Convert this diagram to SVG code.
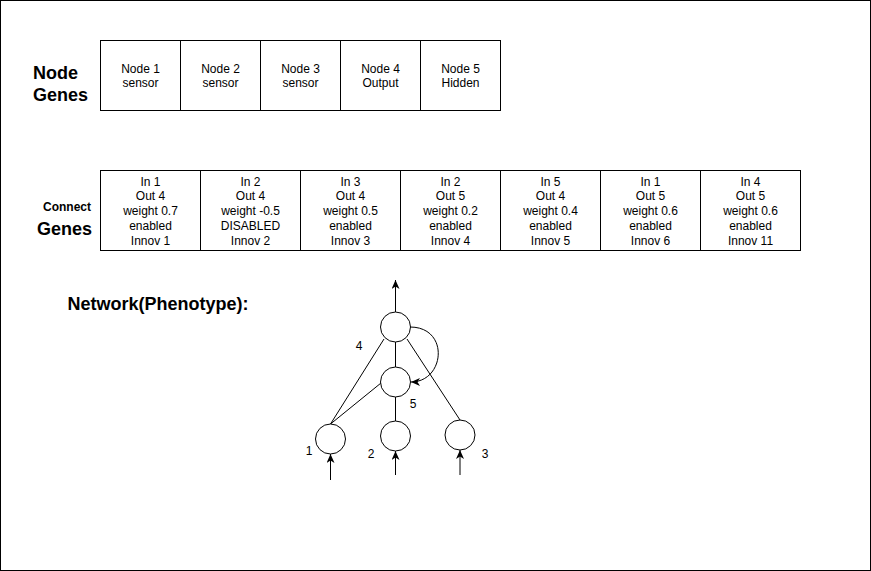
<svg xmlns="http://www.w3.org/2000/svg" width="871" height="571" viewBox="0 0 871 571">
<style>
text{font-family:"Liberation Sans",Arial,sans-serif;fill:#000}
.t{font-size:12px;text-anchor:middle}
.h{font-size:18px;font-weight:bold}
.box{fill:#fff;stroke:#000;stroke-width:1}
.c{fill:#fff;stroke:#000;stroke-width:1}
.e{fill:none;stroke:#000;stroke-width:1}
</style>
<defs>
<marker id="arr" markerUnits="userSpaceOnUse" markerWidth="12" markerHeight="12" refX="9" refY="4" orient="auto">
<path d="M0,0 L9,4 L0,8 L2.5,4 Z" fill="#000"/>
</marker>
</defs>
<rect x="0.5" y="0.5" width="870" height="570" fill="#fff" stroke="#000" stroke-width="1"/>

<g id="node-genes-label">
<text class="h" x="33" y="79">Node</text>
<text class="h" x="33" y="101">Genes</text>
</g>
<g id="ng1"><rect class="box" x="100.5" y="40.5" width="80" height="70"/><text class="t" x="140.5" y="73">Node 1</text><text class="t" x="140.5" y="87">sensor</text></g>
<g id="ng2"><rect class="box" x="180.5" y="40.5" width="80" height="70"/><text class="t" x="220.5" y="73">Node 2</text><text class="t" x="220.5" y="87">sensor</text></g>
<g id="ng3"><rect class="box" x="260.5" y="40.5" width="80" height="70"/><text class="t" x="300.5" y="73">Node 3</text><text class="t" x="300.5" y="87">sensor</text></g>
<g id="ng4"><rect class="box" x="340.5" y="40.5" width="80" height="70"/><text class="t" x="380.5" y="73">Node 4</text><text class="t" x="380.5" y="87">Output</text></g>
<g id="ng5"><rect class="box" x="420.5" y="40.5" width="80" height="70"/><text class="t" x="460.5" y="73">Node 5</text><text class="t" x="460.5" y="87">Hidden</text></g>

<g id="connect-genes-label">
<text x="91" y="211" style="font-size:12px;font-weight:bold;text-anchor:end">Connect</text>
<text class="h" x="92" y="235" style="text-anchor:end">Genes</text>
</g>
<g id="cg1"><rect class="box" x="100.5" y="170.5" width="100" height="80"/>
<text class="t" x="150.5" y="185.5">In 1</text><text class="t" x="150.5" y="200.3">Out 4</text><text class="t" x="150.5" y="215">weight 0.7</text><text class="t" x="150.5" y="229.7">enabled</text><text class="t" x="150.5" y="244.5">Innov 1</text></g>
<g id="cg2"><rect class="box" x="200.5" y="170.5" width="100" height="80"/>
<text class="t" x="250.5" y="185.5">In 2</text><text class="t" x="250.5" y="200.3">Out 4</text><text class="t" x="250.5" y="215">weight -0.5</text><text class="t" x="250.5" y="229.7">DISABLED</text><text class="t" x="250.5" y="244.5">Innov 2</text></g>
<g id="cg3"><rect class="box" x="300.5" y="170.5" width="100" height="80"/>
<text class="t" x="350.5" y="185.5">In 3</text><text class="t" x="350.5" y="200.3">Out 4</text><text class="t" x="350.5" y="215">weight 0.5</text><text class="t" x="350.5" y="229.7">enabled</text><text class="t" x="350.5" y="244.5">Innov 3</text></g>
<g id="cg4"><rect class="box" x="400.5" y="170.5" width="100" height="80"/>
<text class="t" x="450.5" y="185.5">In 2</text><text class="t" x="450.5" y="200.3">Out 5</text><text class="t" x="450.5" y="215">weight 0.2</text><text class="t" x="450.5" y="229.7">enabled</text><text class="t" x="450.5" y="244.5">Innov 4</text></g>
<g id="cg5"><rect class="box" x="500.5" y="170.5" width="100" height="80"/>
<text class="t" x="550.5" y="185.5">In 5</text><text class="t" x="550.5" y="200.3">Out 4</text><text class="t" x="550.5" y="215">weight 0.4</text><text class="t" x="550.5" y="229.7">enabled</text><text class="t" x="550.5" y="244.5">Innov 5</text></g>
<g id="cg6"><rect class="box" x="600.5" y="170.5" width="100" height="80"/>
<text class="t" x="650.5" y="185.5">In 1</text><text class="t" x="650.5" y="200.3">Out 5</text><text class="t" x="650.5" y="215">weight 0.6</text><text class="t" x="650.5" y="229.7">enabled</text><text class="t" x="650.5" y="244.5">Innov 6</text></g>
<g id="cg7"><rect class="box" x="700.5" y="170.5" width="100" height="80"/>
<text class="t" x="750.5" y="185.5">In 4</text><text class="t" x="750.5" y="200.3">Out 5</text><text class="t" x="750.5" y="215">weight 0.6</text><text class="t" x="750.5" y="229.7">enabled</text><text class="t" x="750.5" y="244.5">Innov 11</text></g>

<g id="network-label"><text class="h" x="67.5" y="309.5">Network(Phenotype):</text></g>

<g id="connectors">
<line class="e" x1="395.5" y1="312" x2="395.5" y2="280" marker-end="url(#arr)"/>
<line class="e" x1="395.5" y1="342" x2="395.5" y2="367"/>
<line class="e" x1="395.5" y1="397" x2="395.5" y2="421"/>
<line class="e" x1="384" y1="339" x2="330.5" y2="424"/>
<line class="e" x1="381" y1="383" x2="330.5" y2="424"/>
<line class="e" x1="407" y1="339" x2="460" y2="420"/>
<path class="e" d="M410,327 C450,327 445,382 411,382" marker-end="url(#arr)"/>
<line class="e" x1="330.5" y1="480" x2="330.5" y2="454" marker-end="url(#arr)"/>
<line class="e" x1="395.5" y1="475" x2="395.5" y2="451" marker-end="url(#arr)"/>
<line class="e" x1="460" y1="475" x2="460" y2="450" marker-end="url(#arr)"/>
</g>

<g id="n4"><circle class="c" cx="395.5" cy="327" r="15"/><text class="t" x="359" y="350">4</text></g>
<g id="n5"><circle class="c" cx="395.5" cy="382" r="15"/><text class="t" x="413" y="408">5</text></g>
<g id="n1"><circle class="c" cx="330.5" cy="439" r="15"/><text class="t" x="309" y="455">1</text></g>
<g id="n2"><circle class="c" cx="395.5" cy="436" r="15"/><text class="t" x="371" y="458">2</text></g>
<g id="n3"><circle class="c" cx="460" cy="435" r="15"/><text class="t" x="485" y="458">3</text></g>
</svg>
